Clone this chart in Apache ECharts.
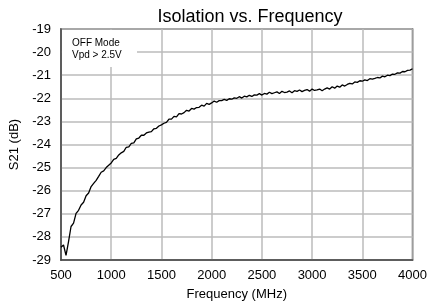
<!DOCTYPE html>
<html>
<head>
<meta charset="utf-8">
<script src="https://cdn.jsdelivr.net/npm/echarts@6/dist/echarts.min.js"></script>
<style>
  html, body { margin: 0; padding: 0; background: #fff; }
  #chart { width: 430px; height: 307px; }
</style>
</head>
<body>
<div id="chart"></div>
<script>
// frequency points (MHz), 25 MHz step
const freqStart = 500;
const freqStep = 25;
// S21 (dB)
const s21 = [
  -28.45, -28.35, -28.8, -28.2, -27.55, -27.4, -26.98, -26.85, -26.62, -26.5,
  -26.22, -26.1, -25.82, -25.68, -25.55, -25.38, -25.2, -25.14, -25.0, -24.9,
  -24.8, -24.64, -24.6, -24.45, -24.36, -24.3, -24.12, -24.1, -23.95, -23.93,
  -23.76, -23.72, -23.6, -23.6, -23.5, -23.46, -23.44, -23.32, -23.3, -23.2,
  -23.15, -23.08, -23.04, -22.9, -22.9, -22.78, -22.8, -22.66, -22.68, -22.62,
  -22.52, -22.55, -22.44, -22.47, -22.4, -22.39, -22.3, -22.34, -22.22, -22.26,
  -22.2, -22.12, -22.17, -22.1, -22.1, -22.05, -22.09, -22.02, -22.04, -21.98,
  -22.0, -21.93, -21.99, -21.91, -21.94, -21.87, -21.92, -21.85, -21.86, -21.8,
  -21.86, -21.79, -21.82, -21.74, -21.8, -21.76, -21.72, -21.79, -21.7, -21.75,
  -21.73, -21.68, -21.76, -21.67, -21.7, -21.64, -21.71, -21.66, -21.62, -21.69,
  -21.6, -21.66, -21.64, -21.6, -21.67, -21.6, -21.55, -21.6, -21.5, -21.56,
  -21.47, -21.52, -21.42, -21.47, -21.4, -21.35, -21.38, -21.29, -21.31, -21.24,
  -21.26, -21.2, -21.23, -21.15, -21.17, -21.14, -21.1, -21.12, -21.04, -21.07,
  -21.0, -21.02, -20.95, -20.96, -20.9, -20.91, -20.84, -20.85, -20.79, -20.78,
  -20.72
];
const noteLines = ['OFF Mode', 'Vpd > 2.5V'];

const font = 'Liberation Sans, Arial, sans-serif';
const chart = echarts.init(document.getElementById('chart'));

const points = s21.map((v, i) => [freqStart + i * freqStep, v]);

const option = {
  animation: false,
  title: {
    text: 'Isolation vs. Frequency',
    left: 245,
    top: 3,
    textAlign: 'center',
    textStyle: { fontFamily: font, fontSize: 18, fontWeight: 'normal', color: '#000' }
  },
  grid: {
    left: 61, right: 14, top: 29, bottom: 47,
    show: true, borderColor: '#444', borderWidth: 1.5
  },
  xAxis: {
    type: 'value',
    min: 500, max: 4000, interval: 500,
    name: 'Frequency (MHz)',
    nameLocation: 'middle',
    nameGap: 28,
    nameTextStyle: { fontFamily: font, fontSize: 13, color: '#000' },
    axisLine: { lineStyle: { color: '#444', width: 1.5 } },
    axisTick: { show: false },
    axisLabel: { fontFamily: font, fontSize: 13, color: '#000', margin: 9, formatter: v => String(v) },
    splitLine: { lineStyle: { color: '#bbb', width: 1.5 } }
  },
  yAxis: {
    type: 'value',
    min: -29, max: -19, interval: 1,
    name: 'S21 (dB)',
    nameLocation: 'middle',
    nameGap: 40,
    nameTextStyle: { fontFamily: font, fontSize: 13, color: '#000' },
    axisLine: { show: true, lineStyle: { color: '#444', width: 1.5 } },
    axisTick: { show: false },
    axisLabel: { fontFamily: font, fontSize: 13, color: '#000', margin: 10 },
    splitLine: { lineStyle: { color: '#bbb', width: 1.5 } }
  },
  graphic: [
    {
      type: 'rect',
      shape: { x: 62, y: 30, width: 75, height: 37 },
      style: { fill: '#fff' },
      z: 10
    },
    {
      type: 'text',
      x: 72, y: 37,
      style: {
        text: noteLines.join('\n'),
        fontFamily: font, fontSize: 10, lineHeight: 12, fill: '#000'
      },
      z: 11
    }
  ],
  series: [{
    type: 'line',
    data: points,
    showSymbol: false,
    lineStyle: { color: '#000', width: 1.3 },
    z: 12
  }]
};

chart.setOption(option);
</script>
</body>
</html>
